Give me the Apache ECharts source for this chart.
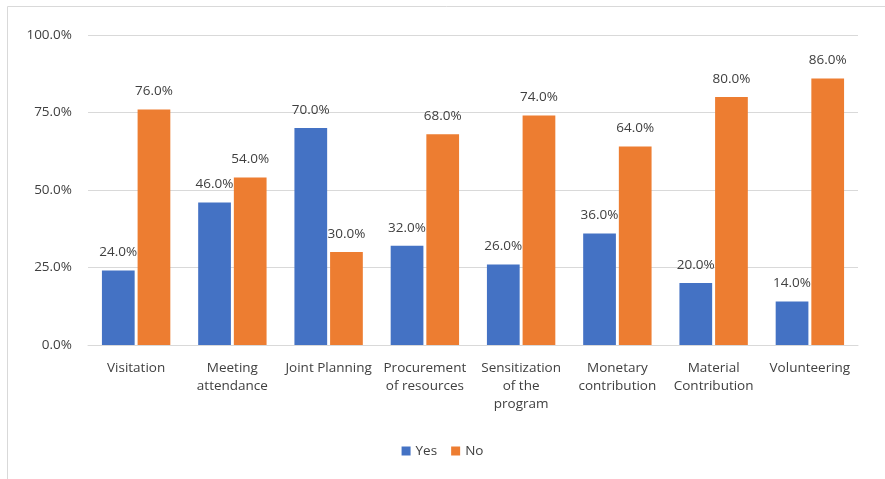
<!DOCTYPE html>
<html><head><meta charset="utf-8">
<script src="https://cdn.jsdelivr.net/npm/echarts@6/dist/echarts.min.js"></script>
<style>html,body{margin:0;padding:0;background:#fff}#c{width:885px;height:479px}</style>
</head><body><div id="c"></div>
<script>
var categories = ["Visitation", "Meeting\nattendance", "Joint Planning", "Procurement\nof resources", "Sensitization\nof the\nprogram", "Monetary\ncontribution", "Material\nContribution", "Volunteering"];
var yesValues = [24, 46, 70, 32, 26, 36, 20, 14];
var noValues = [76, 54, 30, 68, 74, 64, 80, 86];
var seriesNames = ["Yes", "No"];
var yTicks = [0, 25, 50, 75, 100];

var font = "'Open Sans', 'Liberation Sans', sans-serif";
var chart = echarts.init(document.getElementById('c'));
var lbl = {show: true, position: 'top', distance: 11, color: '#404040', fontSize: 13.5, fontFamily: font,
  formatter: function(p){ return p.value.toFixed(1) + '%'; }};
chart.setOption({
  animation: false,
  graphic: [{type: 'rect', shape: {x: 7.5, y: 6.5, width: 900, height: 500}, style: {fill: 'none', stroke: '#d9d9d9', lineWidth: 1}}],
  grid: {left: 88, right: 27, top: 35, bottom: 134},
  legend: {bottom: 16, left: 'center', itemWidth: 9, itemHeight: 9, itemGap: 14, icon: 'rect',
    textStyle: {color: '#404040', fontSize: 13.5, fontFamily: font}, data: seriesNames},
  xAxis: {type: 'category', data: categories,
    axisLine: {lineStyle: {color: '#d9d9d9', width: 1}}, axisTick: {show: false},
    axisLabel: {color: '#404040', fontSize: 13.5, fontFamily: font, margin: 14, lineHeight: 18, interval: 0}},
  yAxis: {type: 'value', min: yTicks[0], max: yTicks[yTicks.length-1], interval: 25,
    axisLine: {show: false}, axisTick: {show: false},
    splitLine: {lineStyle: {color: '#d9d9d9', width: 1}},
    axisLabel: {color: '#404040', fontSize: 13.5, fontFamily: font, margin: 16,
      formatter: function(v){ return v.toFixed(1) + '%'; }}},
  series: [
    {name: seriesNames[0], type: 'bar', data: yesValues, barWidth: '34%', barGap: '9%',
      itemStyle: {color: '#4472c4'}, label: lbl},
    {name: seriesNames[1], type: 'bar', data: noValues, barWidth: '34%', barGap: '9%',
      itemStyle: {color: '#ed7d31'}, label: lbl}
  ]
});
</script></body></html>
